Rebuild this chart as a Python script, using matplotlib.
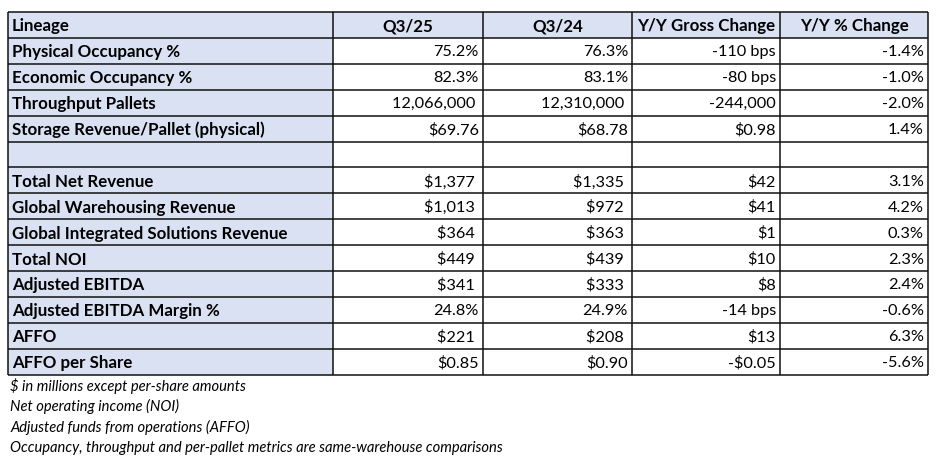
import matplotlib.pyplot as plt
from matplotlib.patches import Rectangle

# table content
header = ["Lineage", "Q3/25", "Q3/24", "Y/Y Gross Change", "Y/Y % Change"]
row_labels = [
    "Physical Occupancy %",
    "Economic Occupancy %",
    "Throughput Pallets",
    "Storage Revenue/Pallet (physical)",
    "",
    "Total Net Revenue",
    "Global Warehousing Revenue",
    "Global Integrated Solutions Revenue",
    "Total NOI",
    "Adjusted EBITDA",
    "Adjusted EBITDA Margin %",
    "AFFO",
    "AFFO per Share",
]
q3_25 = ["75.2%", "82.3%", "12,066,000 ", "$69.76", "", "$1,377 ", "$1,013 ", "$364 ",
         "$449 ", "$341 ", "24.8%", "$221 ", "$0.85"]
q3_24 = ["76.3%", "83.1%", "12,310,000 ", "$68.78", "", "$1,335 ", "$972 ", "$363 ",
         "$439 ", "$333 ", "24.9%", "$208 ", "$0.90"]
gross_change = ["-110 bps", "-80 bps", "-244,000", "$0.98", "", "$42", "$41", "$1",
                "$10", "$8", "-14 bps", "$13", "-$0.05"]
pct_change = ["-1.4%", "-1.0%", "-2.0%", "1.4%", "", "3.1%", "4.2%", "0.3%",
              "2.3%", "2.4%", "-0.6%", "6.3%", "-5.6%"]
footnotes = [
    "$ in millions except per-share amounts",
    "Net operating income (NOI)",
    "Adjusted funds from operations (AFFO)",
    "Occupancy, throughput and per-pallet metrics are same-warehouse comparisons",
]

W, H = 940, 458
FILL = "#D9E1F2"
FONT = "Lato"
FS_LABEL = 12.2
FS_VALUE = 11.7
FS_NOTE = 10.6

col_edges = [8, 333, 483, 632, 780, 928]
top, row_h = 12, 25.9

fig = plt.figure(figsize=(W / 100, H / 100), dpi=100)
ax = fig.add_axes([0, 0, 1, 1])
ax.set_xlim(0, W)
ax.set_ylim(H, 0)
ax.axis("off")

columns = [row_labels, q3_25, q3_24, gross_change, pct_change]
n_rows = len(row_labels) + 1

# fills: header row and first column
ax.add_patch(Rectangle((col_edges[0], top), col_edges[-1] - col_edges[0], row_h,
                       facecolor=FILL, edgecolor="none"))
ax.add_patch(Rectangle((col_edges[0], top), col_edges[1] - col_edges[0], row_h * n_rows,
                       facecolor=FILL, edgecolor="none"))

# grid lines
bottom = top + row_h * n_rows
for i in range(n_rows + 1):
    y = top + i * row_h
    ax.plot([col_edges[0], col_edges[-1]], [y, y], color="#111111", lw=1.1,
            solid_capstyle="butt")
for x in col_edges:
    ax.plot([x, x], [top, bottom], color="#111111", lw=1.1, solid_capstyle="butt")

# header
ax.text(col_edges[0] + 4, top + row_h / 2 + 1.5, header[0], ha="left", va="center",
        fontsize=FS_LABEL, fontweight="bold", family=FONT)
for j in range(1, 5):
    cx = (col_edges[j] + col_edges[j + 1]) / 2
    ax.text(cx, top + row_h / 2 + 1.5, header[j], ha="center", va="center",
            fontsize=FS_LABEL, fontweight="bold", family=FONT)

# body
for i in range(len(row_labels)):
    y = top + (i + 1) * row_h + row_h / 2 + 1.5
    ax.text(col_edges[0] + 4, y, row_labels[i], ha="left", va="center",
            fontsize=FS_LABEL, fontweight="bold", family=FONT)
    for j in range(1, 5):
        ax.text(col_edges[j + 1] - 4, y, columns[j][i], ha="right", va="center",
                fontsize=FS_VALUE, family=FONT)

# notes below the table
for k, note in enumerate(footnotes):
    ax.text(10, bottom + 11 + k * 20.7, note, ha="left", va="center",
            fontsize=FS_NOTE, style="italic", family=FONT)

fig.savefig("out.png", dpi=100)
